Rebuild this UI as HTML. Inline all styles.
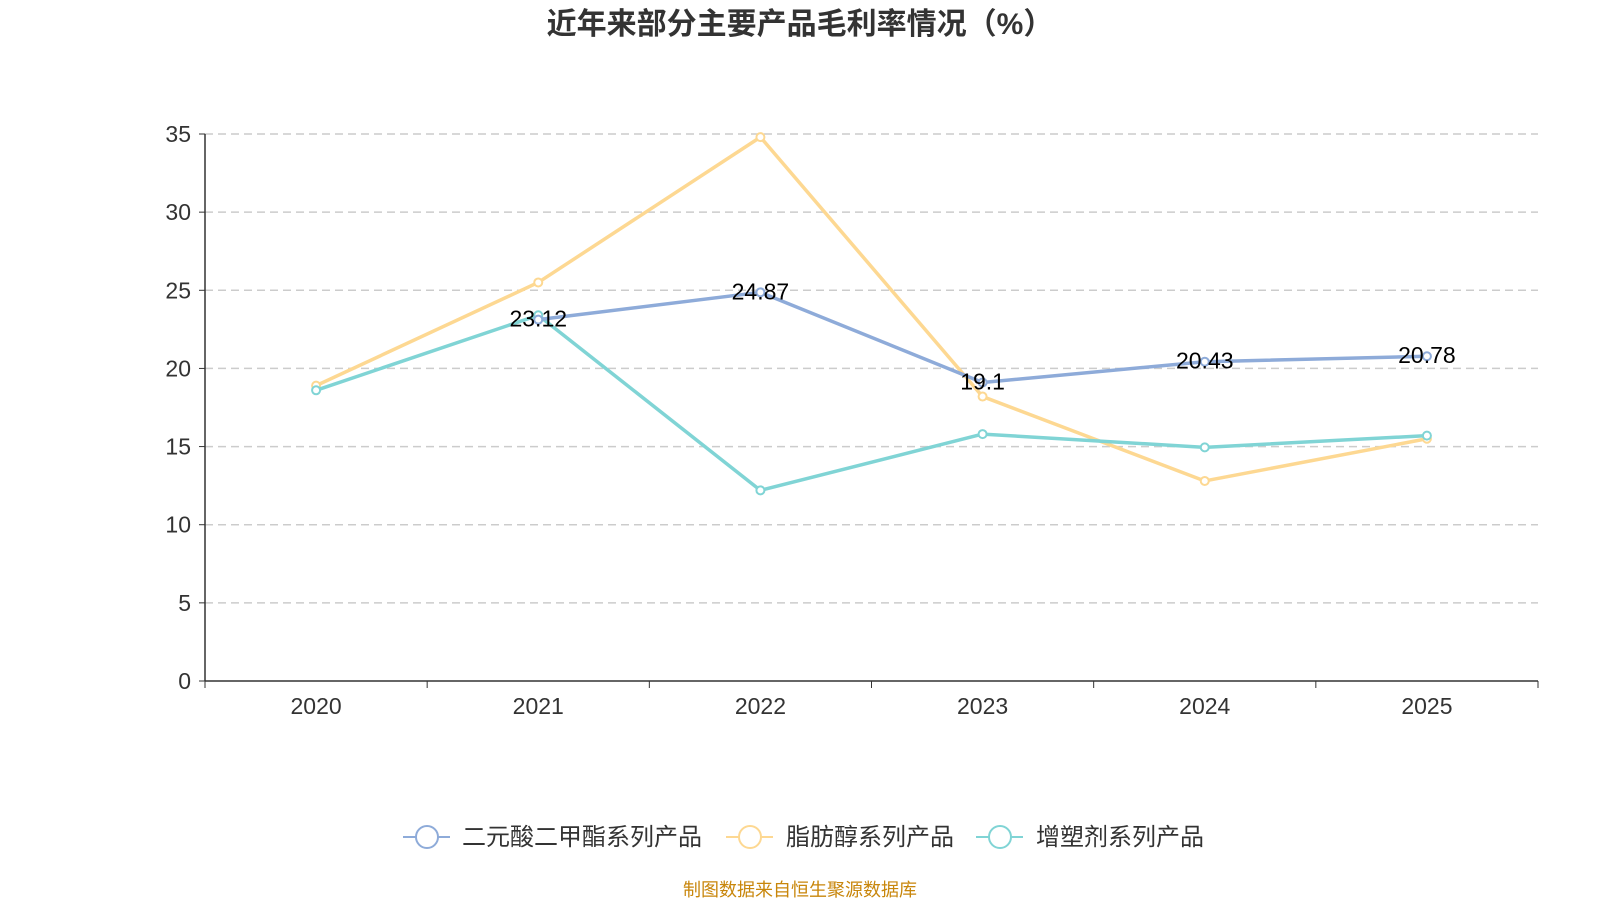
<!DOCTYPE html>
<html><head><meta charset="utf-8"><style>
body{margin:0;background:#fff;width:1600px;height:900px;overflow:hidden;font-family:"Liberation Sans","Noto Sans CJK SC",sans-serif}
</style></head><body>
<svg id="chart" width="1600" height="900" xmlns="http://www.w3.org/2000/svg" font-family="Liberation Sans, Noto Sans CJK SC, sans-serif">
<text x="800" y="34" text-anchor="middle" font-size="30" font-weight="bold" fill="#333">近年来部分主要产品毛利率情况（%）</text>
<g id="grid"></g><g id="axes"></g><g id="series"></g><g id="labels"></g>
<g font-size="24" fill="#333">
<g><line x1="403" y1="837" x2="450" y2="837" stroke="#8eabd9" stroke-width="2"/><circle cx="427" cy="837" r="11" fill="#fff" stroke="#8eabd9" stroke-width="2"/><text x="462" y="845">二元酸二甲酯系列产品</text></g>
<g><line x1="726" y1="837" x2="773" y2="837" stroke="#fdd892" stroke-width="2"/><circle cx="750" cy="837" r="11" fill="#fff" stroke="#fdd892" stroke-width="2"/><text x="786" y="845">脂肪醇系列产品</text></g>
<g><line x1="976" y1="837" x2="1023" y2="837" stroke="#80d4d5" stroke-width="2"/><circle cx="1000" cy="837" r="11" fill="#fff" stroke="#80d4d5" stroke-width="2"/><text x="1036" y="845">增塑剂系列产品</text></g>
</g>
<text x="800" y="896" text-anchor="middle" font-size="18" fill="#c8860b">制图数据来自恒生聚源数据库</text>
</svg>
<script>
const categories=["2020","2021","2022","2023","2024","2025"];
const dimethyl=[null,23.12,24.87,19.1,20.43,20.78];
const fattyAlcohol=[18.9,25.5,34.8,18.2,12.8,15.5];
const plasticizer=[18.6,23.4,12.2,15.8,14.95,15.7];
const yTicks=[0,5,10,15,20,25,30,35];
const NS="http://www.w3.org/2000/svg";
const X0=205,X1=1538,Y0=681,Y1=134,YMAX=35;
const bw=(X1-X0)/categories.length;
const xs=i=>X0+bw*(i+0.5);
const ys=v=>Y0-(v/YMAX)*(Y0-Y1);
function mk(tag,attrs,parent){const e=document.createElementNS(NS,tag);for(const k in attrs)e.setAttribute(k,attrs[k]);parent.appendChild(e);return e;}
const grid=document.getElementById('grid'),axes=document.getElementById('axes'),ser=document.getElementById('series'),lab=document.getElementById('labels');
yTicks.forEach(t=>{
 if(t>0){const l=mk('line',{x1:X0,x2:X1,y1:ys(t),y2:ys(t),stroke:'#ccc','stroke-dasharray':'8,5','stroke-width':1.5},grid);
 
 }
 mk('line',{x1:X0-6,x2:X0,y1:ys(t),y2:ys(t),stroke:'#333'},axes);
 const tx=mk('text',{x:X0-14,y:ys(t)+8,'text-anchor':'end','font-size':23,fill:'#333'},axes);tx.textContent=t;
 
 
});
mk('line',{x1:X0,x2:X0,y1:Y1,y2:Y0,stroke:'#333','stroke-width':1.5},axes);
mk('line',{x1:X0,x2:X1,y1:Y0,y2:Y0,stroke:'#333','stroke-width':1.5},axes);
for(let i=0;i<=categories.length;i++)mk('line',{x1:X0+bw*i,x2:X0+bw*i,y1:Y0,y2:Y0+7,stroke:'#333'},axes);
categories.forEach((c,i)=>{const t=mk('text',{x:xs(i),y:Y0+33,'text-anchor':'middle','font-size':23,fill:'#333'},axes);t.textContent=c;
 
 });
function drawSeries(vals,color,name,showLabels){
 const pts=[];vals.forEach((v,i)=>{if(v!==null)pts.push([xs(i),ys(v),v]);});
 const p=mk('polyline',{points:pts.map(q=>q[0]+','+q[1]).join(' '),fill:'none',stroke:color,'stroke-width':3.5,'stroke-linejoin':'round'},ser);
 
 
 pts.forEach(q=>{const c=mk('circle',{cx:q[0],cy:q[1],r:4,fill:'#fff',stroke:color,'stroke-width':2},ser);
  
  
  if(showLabels){const t=mk('text',{x:q[0],y:q[1]+7,'text-anchor':'middle','font-size':23,fill:'#000'},lab);t.textContent=q[2];
  
  }});
}
drawSeries(fattyAlcohol,'#fdd892','fatty-alcohol',false);
drawSeries(plasticizer,'#80d4d5','plasticizer',false);
drawSeries(dimethyl,'#8eabd9','dimethyl',true);
</script>
</body></html>
